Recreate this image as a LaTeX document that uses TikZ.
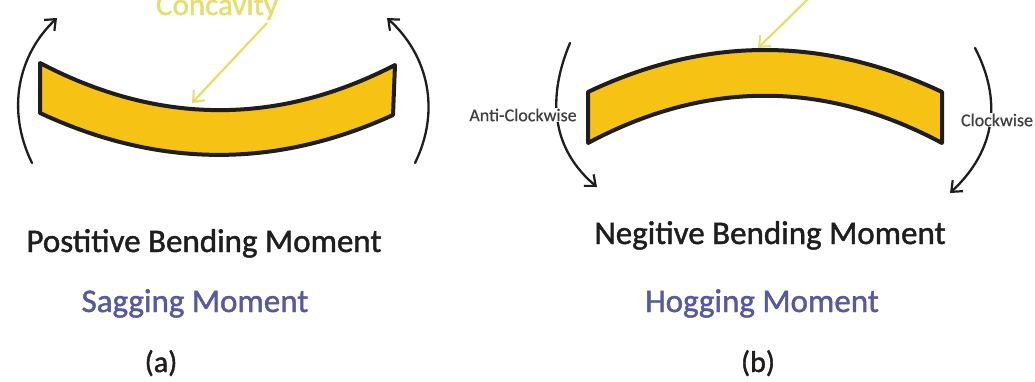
\documentclass[tikz,border=0pt]{standalone}
\usepackage{fontspec}
\setmainfont{Carlito}
\newfontfamily\labelfont[FakeBold=1.3]{Carlito}
\newfontfamily\smallfont[FakeBold=0.6]{Carlito}
\usetikzlibrary{arrows.meta}
\definecolor{beamfill}{RGB}{246,194,20}
\definecolor{hintyellow}{RGB}{230,222,105}
\definecolor{subblue}{RGB}{86,88,160}
\definecolor{ink}{RGB}{30,30,30}
\tikzset{
  beam/.style={fill=beamfill, draw=ink, line width=4pt, line join=round},
  moment/.style={draw=ink, line width=2.3pt, line cap=round,
    -{Straight Barb[length=9pt,width=15pt,line width=2.2pt]}},
  hint/.style={draw=hintyellow, line width=2.2pt,
    -{Straight Barb[length=9pt,width=15pt,line width=2pt]}},
  title/.style={anchor=base, text=ink, font=\labelfont\fontsize{33}{38}\selectfont, inner sep=0pt},
  subtitle/.style={anchor=base, text=subblue, font=\labelfont\fontsize{33}{38}\selectfont, inner sep=0pt},
  caption/.style={anchor=base, text=ink, font=\labelfont\fontsize{30}{34}\selectfont, inner sep=0pt},
  sense/.style={text=ink!85, font=\smallfont\fontsize{18}{21}\selectfont, inner sep=1pt, fill=white},
}
\begin{document}
\begin{tikzpicture}[x=1pt, y=-1pt]
\useasboundingbox (0,0) rectangle (1035,381);
\clip (0,0) rectangle (1035,381);
\fill[white] (0,0) rectangle (1035,381);

% ---- (a) sagging beam ----
\draw[beam] (40,63) .. controls (158,125) and (277,126) .. (395,65)
  -- (393,115) .. controls (275,169) and (158,168) .. (40,113) -- cycle;

\coordinate (aLs) at (32,163);  \coordinate (aLe) at (57,18);
\coordinate (aRs) at (415,163); \coordinate (aRe) at (387,18);
\draw[moment] (aLs) .. controls (6,110) and (18,55) .. (aLe);
\draw[moment] (aRs) .. controls (441,110) and (428,55) .. (aRe);

% label above the beam, partly beyond the top edge
\node[anchor=base, text=hintyellow, font=\labelfont\fontsize{31}{36}\selectfont, inner sep=0pt]
  (concave) at (217,15) {Concavity};
\coordinate (aTip) at (192,103);
\draw[hint] (267,23) -- (aTip);

\node[title]    (atitle) at (204,252) {Postitive Bending Moment};
\node[subtitle] (asub)   at (195,312) {Sagging Moment};
\node[caption]  (acap)   at (161,372) {(a)};

% ---- (b) hogging beam ----
\draw[beam] (588,92) .. controls (706,36) and (824,36) .. (942,92)
  -- (942,143) .. controls (824,80) and (706,80) .. (588,143) -- cycle;

\coordinate (bLs) at (570,43);  \coordinate (bLe) at (597,187);
\coordinate (bRs) at (975,48);  \coordinate (bRe) at (950,193);
\draw[moment] (bLs) .. controls (546,100) and (553,150) .. (bLe);
\draw[moment] (bRs) .. controls (1002,100) and (996,150) .. (bRe);

\node[sense] (anti)  at (523,115) {Anti-Clockwise};
\node[sense] (clock) at (997,120) {Clockwise};

\coordinate (bTip) at (758,48);
\draw[hint] (812,-5) -- (bTip);

\node[title]    (btitle) at (770,244) {Negitive Bending Moment};
\node[subtitle] (bsub)   at (762,312) {Hogging Moment};
\node[caption]  (bcap)   at (758,372) {(b)};
\end{tikzpicture}
\end{document}
